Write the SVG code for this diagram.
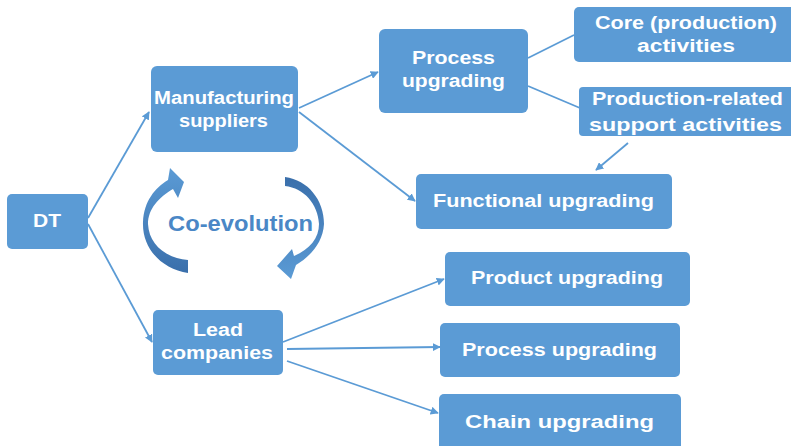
<svg xmlns="http://www.w3.org/2000/svg" width="791" height="446" viewBox="0 0 791 446">
  <defs>
    <style>
      .box { fill: #5b9bd5; }
      .lbl { font-family: "Liberation Sans", Arial, sans-serif; font-weight: bold; font-size: 18px; fill: #ffffff; text-anchor: middle; }
      .edge { stroke: #5b9bd5; stroke-width: 1.8; fill: none; }
      .coevo { font-family: "Liberation Sans", Arial, sans-serif; font-weight: bold; font-size: 22px; fill: #4a87c6; text-anchor: middle; }
    </style>
    <marker id="arrow" viewBox="0 0 10 10" refX="9" refY="5" markerWidth="4.5" markerHeight="4.5" orient="auto" markerUnits="strokeWidth">
      <path d="M0,0 L10,5 L0,10 Z" fill="#5b9bd5"/>
    </marker>
    <linearGradient id="gLeft" x1="0" y1="1" x2="0" y2="0">
      <stop offset="0" stop-color="#3a6fab"/>
      <stop offset="1" stop-color="#5b9bd5"/>
    </linearGradient>
    <linearGradient id="gRight" x1="0" y1="0" x2="0" y2="1">
      <stop offset="0" stop-color="#3a6fab"/>
      <stop offset="1" stop-color="#5b9bd5"/>
    </linearGradient>
  </defs>

  <rect width="791" height="446" fill="#ffffff"/>

  <!-- connectors -->
  <g id="connectors">
    <line class="edge" x1="88" y1="218" x2="149" y2="112" marker-end="url(#arrow)"/>
    <line class="edge" x1="88" y1="224" x2="152" y2="342" marker-end="url(#arrow)"/>
    <line class="edge" x1="299" y1="108" x2="378" y2="72" marker-end="url(#arrow)"/>
    <line class="edge" x1="299" y1="112" x2="415" y2="201" marker-end="url(#arrow)"/>
    <line class="edge" x1="528" y1="58" x2="574" y2="35"/>
    <line class="edge" x1="528" y1="86" x2="580" y2="108"/>
    <line class="edge" x1="628" y1="143" x2="596" y2="170" marker-end="url(#arrow)"/>
    <line class="edge" x1="283" y1="342" x2="444" y2="279" marker-end="url(#arrow)"/>
    <line class="edge" x1="287" y1="349" x2="440" y2="347" marker-end="url(#arrow)"/>
    <line class="edge" x1="287" y1="361" x2="438" y2="413" marker-end="url(#arrow)"/>
  </g>

  <!-- co-evolution cycle -->
  <g id="coevolution">
    <path fill="url(#gLeft)" d="M188 273 C162 269 142 249 143 222 C144 201 155 188 168 180 L170 168 L184 182 L178 198 L173 189 C159 197 148 209 148 224 C149 244 165 258 188 260 Z"/>
    <path fill="url(#gRight)" d="M285 177 C308 180 324 200 324 224 C323 242 311 256 296 265 L291 279 L277 266 L292 249 L294 256 C310 249 319 238 319 224 C318 204 304 188 285 186 Z"/>
    <text class="coevo" x="240.5" y="231" textLength="145" lengthAdjust="spacingAndGlyphs">Co-evolution</text>
  </g>

  <!-- nodes -->
  <g id="dt">
    <rect class="box" x="7" y="194" width="81" height="55" rx="5"/>
    <text class="lbl" x="47" y="227" textLength="28" lengthAdjust="spacingAndGlyphs">DT</text>
  </g>

  <g id="manufacturing-suppliers">
    <rect class="box" x="151" y="66" width="147" height="86" rx="6"/>
    <text class="lbl" x="224" y="104" textLength="140" lengthAdjust="spacingAndGlyphs">Manufacturing</text>
    <text class="lbl" x="223.5" y="127" textLength="89" lengthAdjust="spacingAndGlyphs">suppliers</text>
  </g>

  <g id="lead-companies">
    <rect class="box" x="153" y="310" width="130" height="65" rx="5"/>
    <text class="lbl" x="218" y="336" textLength="50" lengthAdjust="spacingAndGlyphs">Lead</text>
    <text class="lbl" x="217" y="359" textLength="112" lengthAdjust="spacingAndGlyphs">companies</text>
  </g>

  <g id="process-upgrading-top">
    <rect class="box" x="379" y="29" width="149" height="84" rx="6"/>
    <text class="lbl" x="453.5" y="64" textLength="83" lengthAdjust="spacingAndGlyphs">Process</text>
    <text class="lbl" x="453.5" y="87" textLength="103" lengthAdjust="spacingAndGlyphs">upgrading</text>
  </g>

  <g id="core-activities">
    <rect class="box" x="574" y="7" width="225" height="55" rx="5"/>
    <text class="lbl" x="686" y="29" textLength="182" lengthAdjust="spacingAndGlyphs">Core (production)</text>
    <text class="lbl" x="686" y="52" textLength="98" lengthAdjust="spacingAndGlyphs">activities</text>
  </g>

  <g id="support-activities">
    <rect class="box" x="579" y="87" width="220" height="49" rx="4"/>
    <text class="lbl" x="687.5" y="105" textLength="191" lengthAdjust="spacingAndGlyphs">Production-related</text>
    <text class="lbl" x="685.5" y="131" textLength="193" lengthAdjust="spacingAndGlyphs">support activities</text>
  </g>

  <g id="functional-upgrading">
    <rect class="box" x="416" y="174" width="256" height="55" rx="5"/>
    <text class="lbl" x="543.5" y="207" textLength="221" lengthAdjust="spacingAndGlyphs">Functional upgrading</text>
  </g>

  <g id="product-upgrading">
    <rect class="box" x="445" y="252" width="245" height="54" rx="5"/>
    <text class="lbl" x="567" y="284" textLength="192" lengthAdjust="spacingAndGlyphs">Product upgrading</text>
  </g>

  <g id="process-upgrading-bottom">
    <rect class="box" x="440" y="323" width="240" height="54" rx="5"/>
    <text class="lbl" x="559.5" y="356" textLength="195" lengthAdjust="spacingAndGlyphs">Process upgrading</text>
  </g>

  <g id="chain-upgrading">
    <rect class="box" x="439" y="394" width="242" height="60" rx="5"/>
    <text class="lbl" x="559.5" y="428" font-size="21" textLength="189" lengthAdjust="spacingAndGlyphs">Chain upgrading</text>
  </g>
</svg>
